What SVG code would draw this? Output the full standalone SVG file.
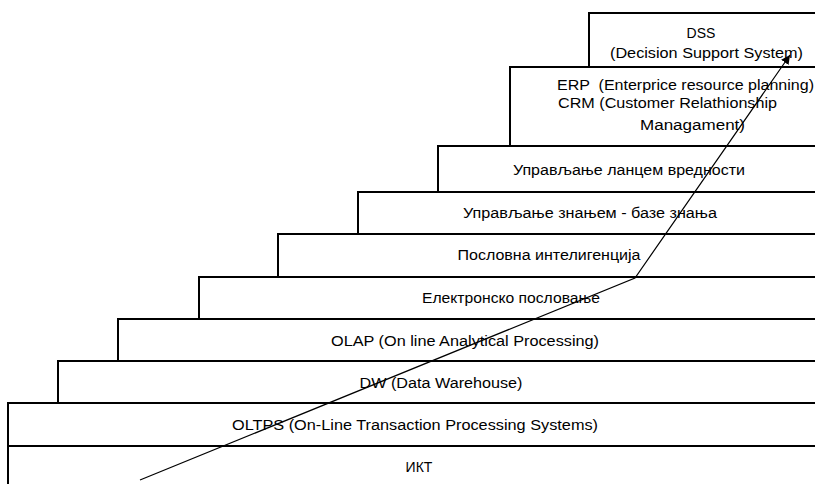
<svg xmlns="http://www.w3.org/2000/svg" width="815" height="484" viewBox="0 0 815 484">
<style>
.box{fill:#fff;stroke:#000;stroke-width:2}
.t{font-family:"Liberation Sans",Arial,sans-serif;font-size:14px;fill:#000}
.m{text-anchor:middle}
.arr{fill:none;stroke:#000;stroke-width:1.2}
</style>
<defs>
<marker id="ah" viewBox="0 0 10 10" refX="10" refY="5" markerWidth="9" markerHeight="9" markerUnits="userSpaceOnUse" orient="auto">
<path d="M0,0 L10,5 L0,10 z" fill="#000"/>
</marker>
</defs>
<rect width="815" height="484" fill="#fff"/>
<g id="ikt"><rect class="box" x="8" y="446" width="822" height="50"/><text class="t m" x="419" y="472">ИКТ</text></g>
<g id="oltps"><rect class="box" x="8" y="403" width="822" height="43"/><text class="t m" x="415" y="430" textLength="366" lengthAdjust="spacingAndGlyphs">OLTPS (On-Line Transaction Processing Systems)</text></g>
<g id="dw"><rect class="box" x="58" y="361" width="772" height="42"/><text class="t m" x="441" y="388" textLength="163" lengthAdjust="spacingAndGlyphs">DW (Data Warehouse)</text></g>
<g id="olap"><rect class="box" x="118" y="319" width="712" height="42"/><text class="t m" x="465" y="346" textLength="268" lengthAdjust="spacingAndGlyphs">OLAP (On line Analytical Processing)</text></g>
<g id="elektronsko"><rect class="box" x="199" y="277" width="631" height="42"/><text class="t m" x="511" y="303" textLength="178" lengthAdjust="spacingAndGlyphs">Електронско пословање</text></g>
<g id="poslovna"><rect class="box" x="278" y="234" width="552" height="43"/><text class="t m" x="549" y="260" textLength="183" lengthAdjust="spacingAndGlyphs">Пословна интелигенција</text></g>
<g id="znanje"><rect class="box" x="358" y="192" width="472" height="42"/><text class="t m" x="590" y="218" textLength="254" lengthAdjust="spacingAndGlyphs">Управљање знањем - базе знања</text></g>
<g id="lanac"><rect class="box" x="438" y="146" width="392" height="46"/><text class="t m" x="629" y="175" textLength="232" lengthAdjust="spacingAndGlyphs">Управљање ланцем вредности</text></g>
<g id="erp"><rect class="box" x="510" y="67" width="320" height="79"/>
<text class="t" x="557" y="90" xml:space="preserve" textLength="257" lengthAdjust="spacingAndGlyphs">ERP  (Enterprice resource planning)</text>
<text class="t" x="558" y="108" textLength="219" lengthAdjust="spacingAndGlyphs">CRM (Customer Relathionship</text>
<text class="t" x="640" y="130" textLength="105" lengthAdjust="spacingAndGlyphs">Managament)</text></g>
<g id="dss"><rect class="box" x="589" y="13" width="241" height="54"/>
<text class="t m" x="701" y="38">DSS</text>
<text class="t" x="610" y="58" textLength="193" lengthAdjust="spacingAndGlyphs">(Decision Support System)</text></g>
<g id="connectors"><polyline class="arr" points="140,480 635,278 790,55" marker-end="url(#ah)"/></g>
</svg>
